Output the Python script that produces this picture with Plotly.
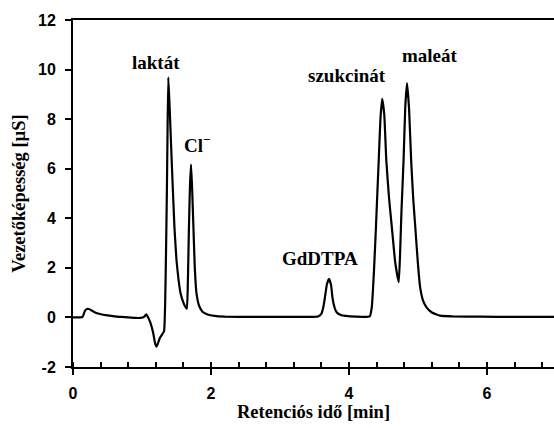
import plotly.graph_objects as go

time_min = [0.00, 0.10, 0.14, 0.17, 0.20, 0.23, 0.27, 0.32, 0.39, 0.50, 0.60, 0.70, 0.80, 0.90, 0.98,
            1.03, 1.06, 1.08, 1.12, 1.16, 1.19, 1.21, 1.23, 1.26, 1.30, 1.32, 1.335, 1.35, 1.36, 1.37,
            1.381, 1.40, 1.43, 1.47, 1.50, 1.53, 1.56, 1.60, 1.63, 1.65, 1.665, 1.68, 1.695, 1.71,
            1.725, 1.745, 1.765, 1.79, 1.83, 1.88, 1.95, 2.05, 2.20, 2.60, 3.00, 3.40, 3.55, 3.60,
            3.63, 3.65, 3.68, 3.71, 3.74, 3.76, 3.79, 3.82, 3.88, 3.95, 4.10, 4.30, 4.33, 4.36, 4.39,
            4.41, 4.43, 4.455, 4.48, 4.51, 4.54, 4.58, 4.62, 4.67, 4.72, 4.74, 4.76, 4.79, 4.815,
            4.84, 4.87, 4.90, 4.93, 4.96, 5.00, 5.03, 5.07, 5.12, 5.20, 5.32, 5.50, 5.90, 6.40, 6.97]
conductivity = [0.00, 0.00, 0.02, 0.25, 0.34, 0.34, 0.28, 0.20, 0.14, 0.08, 0.04, 0.02, 0.00, -0.02, -0.02,
                0.02, 0.12, 0.05, -0.20, -0.60, -1.05, -1.18, -1.05, -0.82, -0.65, -0.55, 0.5, 3.0, 5.0, 7.5,
                9.69, 8.5, 6.33, 3.64, 2.3, 1.5, 0.96, 0.6, 0.42, 0.35, 1.5, 3.64, 5.3, 6.17,
                5.3, 3.64, 2.0, 0.96, 0.45, 0.22, 0.12, 0.06, 0.03, 0.02, 0.02, 0.02, 0.04, 0.15,
                0.45, 0.8, 1.35, 1.56, 1.3, 0.8, 0.4, 0.21, 0.10, 0.06, 0.03, 0.04, 0.42, 1.8, 3.64,
                5.0, 6.33, 8.0, 8.82, 8.2, 6.33, 4.8, 3.64, 2.2, 1.42, 2.6, 4.31, 6.33, 8.5,
                9.45, 8.4, 6.33, 4.8, 3.64, 2.1, 1.22, 0.7, 0.42, 0.2, 0.07, 0.04, 0.03, 0.02, 0.02]

peak_labels = ["laktát", "Cl<sup>−</sup>", "GdDTPA", "szukcinát", "maleát"]
label_x = [1.20, 1.80, 3.58, 3.97, 5.17]
label_y = [10.3, 7.0, 2.38, 9.76, 10.56]

x_ticks = [0, 2, 4, 6]
y_ticks = [-2, 0, 2, 4, 6, 8, 10, 12]

serif = "Liberation Serif, Times New Roman, serif"
sans = "Liberation Sans, Arial, sans-serif"

fig = go.Figure()
fig.add_trace(go.Scatter(x=time_min, y=conductivity, mode="lines",
                         line=dict(color="black", width=2.2, shape="spline", smoothing=0.4),
                         showlegend=False, hoverinfo="skip"))

for txt, xx, yy in zip(peak_labels, label_x, label_y):
    fig.add_annotation(x=xx, y=yy, text="<b>" + txt + "</b>", showarrow=False,
                       font=dict(family=serif, size=19, color="black"))

fig.update_layout(
    width=554, height=428,
    margin=dict(l=73, r=0, t=20, b=61),
    plot_bgcolor="white", paper_bgcolor="white",
    xaxis=dict(range=[0, 6.97], tickvals=x_ticks, ticktext=[f"<b>{v}</b>" for v in x_ticks],
               ticks="outside", ticklen=6, tickwidth=2, tickcolor="black",
               minor=dict(dtick=0.4, ticks="inside", ticklen=5, tickwidth=1.5, tickcolor="black"),
               showline=True, linecolor="black", linewidth=2, mirror=True,
               showgrid=False, zeroline=False, ticklabelstandoff=5,
               tickfont=dict(family=sans, size=16, color="black"),
               title=dict(text="<b>Retenciós idő [min]</b>", font=dict(family=serif, size=18.5, color="black"),
                          standoff=1)),
    yaxis=dict(range=[-2, 12], tickvals=y_ticks, ticktext=[f"<b>{v}</b>" for v in y_ticks],
               ticks="outside", ticklen=6, tickwidth=2, tickcolor="black",
               showline=True, linecolor="black", linewidth=2,
               showgrid=False, zeroline=False, ticklabelstandoff=6,
               tickfont=dict(family=sans, size=16, color="black"),
               title=dict(text="<b>Vezetőképesség [µS]</b>", font=dict(family=serif, size=18.5, color="black"),
                          standoff=8)),
)

fig.write_html("out.html")
